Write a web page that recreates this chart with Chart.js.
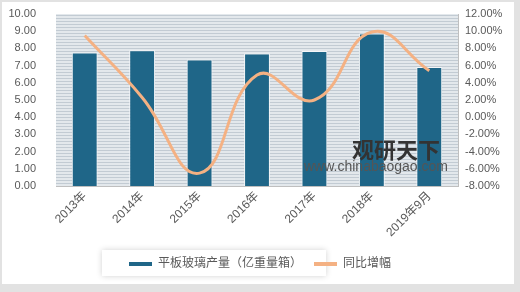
<!DOCTYPE html>
<html>
<head>
<meta charset="utf-8">
<script src="https://cdn.jsdelivr.net/npm/chart.js@4/dist/chart.umd.min.js"></script>
<style>
  body { margin: 0; background: #ffffff; }
  #wrap { width: 520px; height: 292px; position: relative; }
</style>
</head>
<body>
<div id="wrap"><canvas id="chart" width="520" height="292"></canvas></div>
<script>
const years = ['2013年', '2014年', '2015年', '2016年', '2017年', '2018年', '2019年9月'];
const output = [7.76, 7.89, 7.35, 7.70, 7.85, 8.87, 6.92];
const growth = [9.5, 2.3, -6.5, 4.9, 2.0, 9.9, 5.4];

const FONT = '"Liberation Sans", "Noto Sans CJK SC", sans-serif';

// frame, striped plot area, legend box, watermark
const decor = {
    id: 'decor',
    beforeDraw(chart) {
        const c = chart.ctx;
        const a = chart.chartArea;
        c.save();
        c.fillStyle = '#e2e2e2';
        c.fillRect(0, 0, chart.width, chart.height);
        c.fillStyle = '#ffffff';
        c.fillRect(2, 2, 512, 282);
        // striped plot area
        c.fillStyle = '#e3e8ec';
        c.fillRect(a.left, a.top, a.width, a.height);
        c.fillStyle = '#c2cbd3';
        for (let y = a.top + 1; y < a.bottom; y += 3) {
            c.fillRect(a.left, y, a.width, 1);
        }
        // legend box
        const lg = chart.legend;
        c.shadowColor = 'rgba(0,0,0,0.18)';
        c.shadowBlur = 6;
        c.fillStyle = '#ffffff';
        c.fillRect(102, lg.top + 4, 224, lg.height - 8);
        c.restore();
    },
    afterDatasetsDraw(chart) {
        const c = chart.ctx;
        c.save();
        c.fillStyle = '#333333';
        c.font = 'bold 22px "Noto Sans CJK SC"';
        c.textBaseline = 'middle';
        c.fillText('观研天下', 352, 150);
        c.fillStyle = '#555555';
        c.font = '14px "Liberation Sans"';
        c.fillText('www.chinabaogao.com', 304, 167);
        c.restore();
    }
};

new Chart(document.getElementById('chart'), {
    data: {
        labels: years,
        datasets: [{
            type: 'bar',
            label: '平板玻璃产量（亿重量箱）',
            data: output,
            yAxisID: 'y',
            backgroundColor: '#1f6688',
            borderColor: '#f4f6f8',
            borderWidth: 1,
            barPercentage: 0.45,
            categoryPercentage: 1,
            order: 1
        }, {
            type: 'line',
            label: '同比增幅',
            data: growth,
            yAxisID: 'y1',
            borderColor: '#f4b183',
            backgroundColor: '#f4b183',
            borderWidth: 3,
            pointRadius: 0,
            tension: 0.45,
            order: 0
        }]
    },
    options: {
        responsive: false,
        animation: false,
        layout: { padding: { top: 14, left: 0, right: 0, bottom: 12 } },
        plugins: {
            tooltip: { enabled: false },
            legend: {
                position: 'bottom',
                labels: {
                    font: { family: FONT, size: 12 },
                    color: '#595959',
                    boxWidth: 23,
                    boxHeight: 4,
                    padding: 12,
                    sort: (a, b) => a.datasetIndex - b.datasetIndex,
                    generateLabels(chart) {
                        const items = Chart.defaults.plugins.legend.labels.generateLabels(chart);
                        items.forEach(it => { it.strokeStyle = it.fillStyle; it.lineWidth = 0; });
                        return items;
                    }
                }
            }
        },
        scales: {
            x: {
                grid: { display: false, drawTicks: false },
                border: { color: '#bfbfbf' },
                ticks: {
                    font: { family: FONT, size: 12 },
                    color: '#595959',
                    maxRotation: 45,
                    minRotation: 45,
                    padding: 3
                },
                afterFit(s) { s.height = 60; s.paddingLeft = 0; s.paddingRight = 0; }
            },
            y: {
                position: 'left',
                min: 0,
                max: 10,
                grid: { display: false },
                border: { display: false },
                ticks: {
                    stepSize: 1,
                    font: { family: FONT, size: 11 },
                    color: '#595959',
                    padding: 12,
                    callback: v => v.toFixed(2)
                },
                afterFit(s) { s.width = 56; s.paddingTop = 0; s.paddingBottom = 0; }
            },
            y1: {
                position: 'right',
                min: -8,
                max: 12,
                grid: { display: false, drawOnChartArea: false, drawTicks: true, tickLength: 4, color: '#bfbfbf' },
                border: { color: '#bfbfbf' },
                ticks: {
                    stepSize: 2,
                    font: { family: FONT, size: 11 },
                    color: '#595959',
                    padding: 3,
                    callback: v => v.toFixed(2) + '%'
                },
                afterFit(s) { s.width = 62; s.paddingTop = 0; s.paddingBottom = 0; }
            }
        }
    },
    plugins: [decor]
});
</script>
</body>
</html>
